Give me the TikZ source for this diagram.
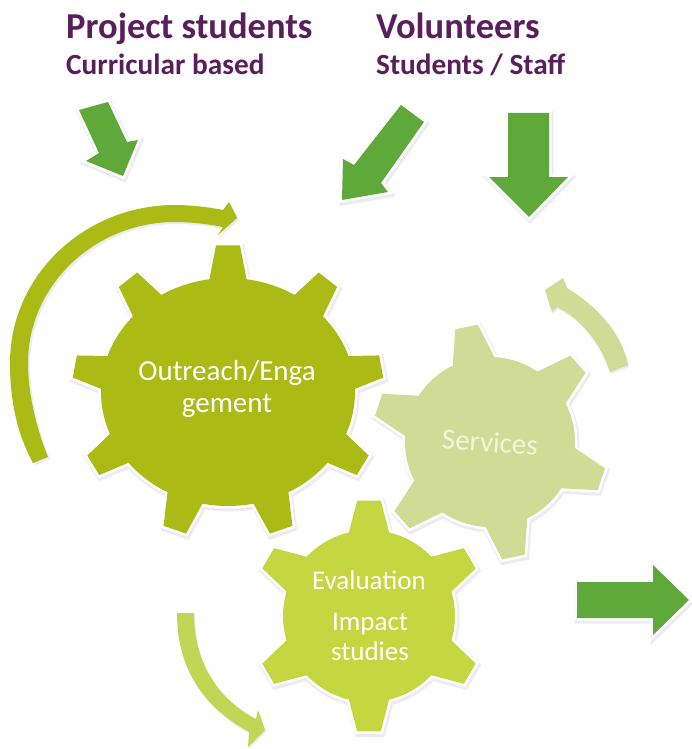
\documentclass[tikz,border=0pt]{standalone}
\usepackage{fontspec}
\setmainfont{Carlito}
\definecolor{gearA}{HTML}{ABBA14}
\definecolor{gearB}{HTML}{D0DC96}
\definecolor{gearC}{HTML}{C5D640}
\definecolor{arcC}{HTML}{C2D655}
\definecolor{arrowG}{HTML}{5FA83A}
\definecolor{plum}{HTML}{5A1E5C}
\definecolor{halo}{HTML}{D9D9E8}
\tikzset{
  x=1pt,y=-1pt,
  haloshape/.style={fill=halo,draw=halo,line width=7pt,opacity=.5,line join=miter},
  whiteshape/.style={draw=white,line width=5pt,line join=miter,fill=white},
  headline/.style={text=plum,font=\bfseries\fontsize{36.5}{36.5}\selectfont,anchor=base west,inner sep=0pt},
  subline/.style={text=plum,font=\bfseries\fontsize{29.3}{29.3}\selectfont,anchor=base west,inner sep=0pt},
  gearlabel/.style={text=white,font=\fontsize{29}{29}\selectfont,inner sep=0pt},
  smalllabel/.style={text=white,font=\fontsize{27}{27}\selectfont,inner sep=0pt},
  flatfill/.style={fill=#1},
}
% Rx Ry n rot hb ht cx cy  (tip radii in \gearTx, \gearTy)
\newcommand\gearoutline[8]{%
  ({#7+#1*cos(#4-#5)},{#8+#2*sin(#4-#5)})
  \foreach \k [evaluate=\k as \a using #4+(\k-1)*360/#3] in {1,...,#3}{
    -- ({#7+#1*cos(\a-#5)},{#8+#2*sin(\a-#5)})
    -- ({#7+\gearTx*cos(\a-#6)},{#8+\gearTy*sin(\a-#6)})
    -- ({#7+\gearTx*cos(\a+#6)},{#8+\gearTy*sin(\a+#6)})
    -- ({#7+#1*cos(\a+#5)},{#8+#2*sin(\a+#5)})
    \foreach \s in {1,...,11}{
      -- ({#7+#1*cos(\a+#5+\s*(360/#3-2*#5)/12)},{#8+#2*sin(\a+#5+\s*(360/#3-2*#5)/12)})
    }
  } -- cycle}
\newcommand\fancy[2]{%
  \path[haloshape,shift={(1,2)}] #2;
  \path[whiteshape] #2;
  \path[#1] #2;}
\newcommand\arcshape[2]{\path[fill=#1,draw=none] #2;}
\begin{document}
\begin{tikzpicture}
\useasboundingbox (0,0) rectangle (692,749);
\fill[white] (0,0) rectangle (692,749);

% titles
\node[headline] (project) at (66,39) {Project students};
\node[subline]  (curricular) at (66,75) {Curricular based};
\node[headline] (volunteers) at (376,39) {Volunteers};
\node[subline]  (staff) at (376,75) {Students / Staff};

% straight arrows
\fancy{flatfill=arrowG}{(79,110) -- (108,102) -- (127,142) -- (138,140) -- (123,176) -- (86,161) -- (99,153) -- cycle}
\fancy{flatfill=arrowG}{(401,105) -- (424,122) -- (381,183) -- (388,192) -- (342,200) -- (343,159) -- (354,165) -- cycle}
\fancy{flatfill=arrowG}{(508,113) -- (549,113) -- (549,177) -- (568,177) -- (529,217) -- (489,177) -- (508,177) -- cycle}
\fancy{flatfill=arrowG}{(577,582) -- (653,582) -- (653,565) -- (689,600) -- (653,635) -- (653,618) -- (577,618) -- cycle}

% curved arrows
\path[fill=halo,opacity=.5,shift={(2,2)}] (33,463) .. controls (15,430) and (10,395) .. (10,363) .. controls (10,275) and (85,205) .. (175,205) .. controls (190,205) and (208,207) .. (223,210) -- (229,202) -- (237,218) -- (218,235) -- (223,227) .. controls (208,224) and (190,222) .. (175,222) .. controls (95,222) and (28,285) .. (28,363) .. controls (28,395) and (37,430) .. (48,457) -- cycle;
\arcshape{gearA}{(33,463) .. controls (15,430) and (10,395) .. (10,363) .. controls (10,275) and (85,205) .. (175,205) .. controls (190,205) and (208,207) .. (223,210) -- (229,202) -- (237,218) -- (218,235) -- (223,227) .. controls (208,224) and (190,222) .. (175,222) .. controls (95,222) and (28,285) .. (28,363) .. controls (28,395) and (37,430) .. (48,457) -- cycle}
\path[fill=halo,opacity=.5,shift={(1,2)}] (628,365) .. controls (622,335) and (600,308) .. (567,288) -- (563,278) -- (545,290) -- (552,312) -- (557,307) .. controls (580,318) and (600,342) .. (610,372) -- cycle;
\arcshape{gearB}{(628,365) .. controls (622,335) and (600,308) .. (567,288) -- (563,278) -- (545,290) -- (552,312) -- (557,307) .. controls (580,318) and (600,342) .. (610,372) -- cycle}
\path[fill=halo,opacity=.5,shift={(1,2)}] (177,613) .. controls (177,665) and (200,705) .. (249,732) -- (248,747) -- (265,730) -- (258,710) -- (256,719) .. controls (220,700) and (194,665) .. (194,613) -- cycle;
\arcshape{arcC}{(177,613) .. controls (177,665) and (200,705) .. (249,732) -- (248,747) -- (265,730) -- (258,710) -- (256,719) .. controls (220,700) and (194,665) .. (194,613) -- cycle}

% gears
\def\gearTx{156}\def\gearTy{147}
\fancy{flatfill=gearA}{\gearoutline{127}{114}{9}{-90}{8.4}{4.4}{228}{392}}
\def\gearTx{118}\def\gearTy{118}
\fancy{flatfill=gearB}{\gearoutline{85}{85}{6}{18.5}{14.5}{5.6}{490}{442}}
\def\gearTx{117}\def\gearTy{116}
\fancy{flatfill=gearC}{\gearoutline{86}{86}{6}{30}{13.5}{5.8}{369}{616}}

% labels
\node[gearlabel,align=center] (outreach) at (227,389) {Outreach/Enga\\[3pt]gement};
\node[gearlabel,text=white!70!gearB,rotate=-4] (services) at (490,442) {Services};
\node[smalllabel] (evaluation) at (369,580) {Evaluation};
\node[smalllabel,align=center] (impact) at (370,637) {Impact\\[3pt]studies};
\end{tikzpicture}
\end{document}
